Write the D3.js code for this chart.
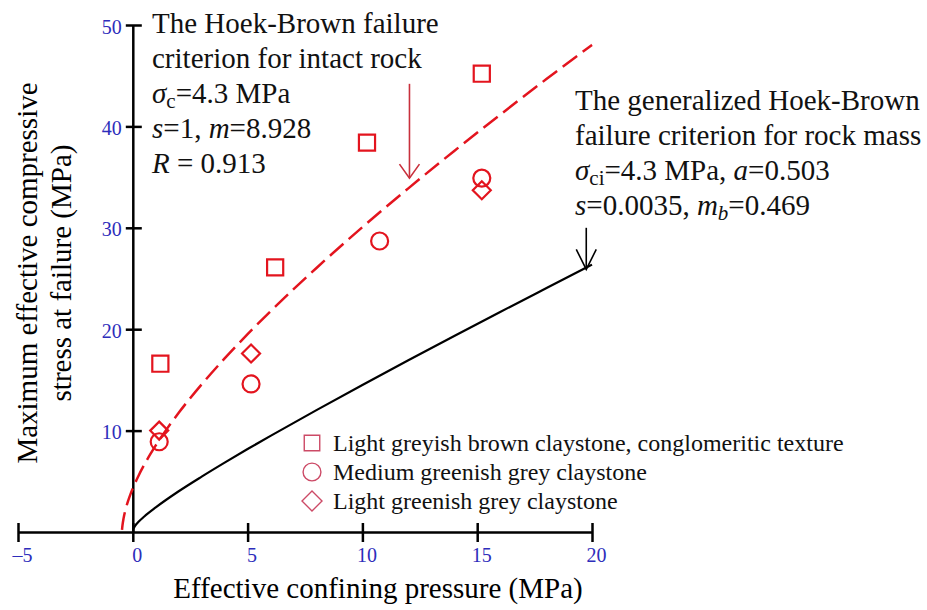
<!DOCTYPE html>
<html>
<head>
<meta charset="utf-8">
<script src="https://cdn.jsdelivr.net/npm/d3@7"></script>
<style>
  body { margin: 0; background: #fff; }
  svg, svg text { font-family: "Liberation Serif", "DejaVu Serif", "Times New Roman", serif; }
</style>
</head>
<body>
<div id="my_dataviz"></div>
<script>
// x / y tick values
const xTicks = [-5, 0, 5, 10, 15, 20];
const yTicks = [10, 20, 30, 40, 50];

// measured points (sigma3, sigma1)
const squareX = [1.2, 6.2, 10.2, 15.2];
const squareY = [16.6, 26.1, 38.4, 45.2];
const circleX = [1.15, 5.15, 10.75, 15.2];
const circleY = [8.9, 14.6, 28.7, 34.9];
const diamondX = [1.15, 5.15, 15.2];
const diamondY = [10.0, 17.6, 33.7];

// Hoek-Brown curve for intact rock
const intactX = [-0.47, -0.45, -0.4, -0.3, -0.2, -0.1, 0, 0.25, 0.5, 1, 1.5, 2, 3, 4, 5, 6, 8, 10, 12, 14, 16, 18, 20];
const intactY = [0.2, 0.65, 1.37, 2.34, 3.09, 3.73, 4.30, 5.55, 6.64, 8.54, 10.22, 11.76, 14.56, 17.12, 19.51, 21.77, 26.04, 30.06, 33.89, 37.58, 41.15, 44.64, 48.04];

// generalized Hoek-Brown curve for rock mass (solid black line)
const massX = [0, 0.1, 0.25, 0.5, 1, 2, 3, 4, 5, 6, 8, 10, 12, 14, 16, 18, 20];
const massY = [0.25, 0.61, 1.00, 1.53, 2.43, 4.02, 5.46, 6.84, 8.18, 9.48, 12.02, 14.50, 16.93, 19.33, 21.70, 24.04, 26.37];

const legendLabels = [
  "Light greyish brown claystone, conglomeritic texture",
  "Medium greenish grey claystone",
  "Light greenish grey claystone"
];

const width = 927, height = 610;
const serif = '"Liberation Serif", "DejaVu Serif", "Times New Roman", serif';
const red = "#e3141e";
const tickBlue = "#2d2dbb";

const svg = d3.select("#my_dataviz")
  .append("svg")
    .attr("width", width)
    .attr("height", height)
    .style("font-family", serif);

const x = d3.scaleLinear().domain([-5, 20]).range([18, 592]);
const y = d3.scaleLinear().domain([0, 50]).range([532, 25]);

// axes drawn through the origin
const xAxis = svg.append("g")
  .attr("transform", "translate(0," + y(0) + ")")
  .call(d3.axisBottom(x).tickValues(xTicks).tickSize(0).tickFormat(d => d < 0 ? "\u2013" + (-d) : d))
  .attr("font-family", serif);
xAxis.select(".domain").attr("stroke", "#000").attr("stroke-width", 2.5);
xAxis.selectAll(".tick line").remove();
xAxis.selectAll(".tick").append("line")
  .attr("y1", -9).attr("y2", 10)
  .attr("stroke", "#000").attr("stroke-width", 2.5);
xAxis.selectAll(".tick text")
  .attr("y", 16).attr("dx", 4)
  .attr("fill", tickBlue)
  .style("font-family", serif)
  .style("font-size", "20px");

const yAxis = svg.append("g")
  .attr("transform", "translate(" + x(0) + ",0)")
  .call(d3.axisLeft(y).tickValues(yTicks).tickSize(0))
  .attr("font-family", serif);
yAxis.select(".domain").attr("stroke", "#000").attr("stroke-width", 2.5);
yAxis.selectAll(".tick line").remove();
yAxis.selectAll(".tick").append("line")
  .attr("x1", -7).attr("x2", 9)
  .attr("stroke", "#000").attr("stroke-width", 2.5);
yAxis.selectAll(".tick text")
  .attr("x", -11).attr("dy", "0.4em")
  .attr("fill", tickBlue)
  .style("font-family", serif)
  .style("font-size", "20px");

// axis titles
svg.append("text")
  .attr("x", 378).attr("y", 598)
  .attr("text-anchor", "middle")
  .style("font-size", "29px")
  .text("Effective confining pressure (MPa)");

const yTitle = svg.append("text")
  .attr("transform", "translate(37,273) rotate(-90)")
  .attr("text-anchor", "middle")
  .style("font-size", "29px");
yTitle.append("tspan").attr("x", 0).attr("y", 0).text("Maximum effective compressive");
yTitle.append("tspan").attr("x", 0).attr("y", 34).text("stress at failure (MPa)");

// curves
const intact = intactX.map((v, i) => [v, intactY[i]]);
const mass = massX.map((v, i) => [v, massY[i]]);
const line = d3.line()
  .x(d => x(d[0]))
  .y(d => y(d[1]))
  .curve(d3.curveMonotoneX);

svg.append("path")
  .datum(mass)
  .attr("d", line)
  .attr("fill", "none")
  .attr("stroke", "#000")
  .attr("stroke-width", 2.2);

svg.append("path")
  .datum(intact)
  .attr("d", line)
  .attr("fill", "none")
  .attr("stroke", red)
  .attr("stroke-width", 2.5)
  .attr("stroke-dasharray", "18,7");

// points
const squares = squareX.map((v, i) => [v, squareY[i]]);
const circles = circleX.map((v, i) => [v, circleY[i]]);
const diamonds = diamondX.map((v, i) => [v, diamondY[i]]);

svg.append("g").selectAll("path")
  .data(squares)
  .enter().append("path")
    .attr("d", d3.symbol().type(d3.symbolSquare).size(260))
    .attr("transform", d => "translate(" + x(d[0]) + "," + y(d[1]) + ")")
    .attr("fill", "none").attr("stroke", red).attr("stroke-width", 2.2);

svg.append("g").selectAll("circle")
  .data(circles)
  .enter().append("circle")
    .attr("cx", d => x(d[0]))
    .attr("cy", d => y(d[1]))
    .attr("r", 8.5)
    .attr("fill", "none").attr("stroke", red).attr("stroke-width", 2.2);

svg.append("g").selectAll("path")
  .data(diamonds)
  .enter().append("path")
    .attr("d", "M0,-9L9,0L0,9L-9,0Z")
    .attr("transform", d => "translate(" + x(d[0]) + "," + y(d[1]) + ")")
    .attr("fill", "none").attr("stroke", red).attr("stroke-width", 2.2);

// arrows pointing at the two curves
function arrow(xv, yTop, yTip, color, head) {
  const g = svg.append("g").attr("stroke", color).attr("stroke-width", 1.6).attr("fill", "none");
  g.append("line")
    .attr("x1", x(xv)).attr("x2", x(xv))
    .attr("y1", y(yTop)).attr("y2", y(yTip));
  g.append("path")
    .attr("d", "M" + (x(xv) - 10) + "," + (y(yTip) - head) + "L" + x(xv) + "," + y(yTip) + "L" + (x(xv) + 10) + "," + (y(yTip) - head));
}
arrow(12.05, 44.2, 34.9, "#c8303c", 14);
arrow(19.75, 30.0, 25.9, "#000", 20);

// annotation text
function note(xp, yp, lines) {
  lines.forEach((parts, i) => {
    const t = svg.append("text")
      .attr("x", xp).attr("y", yp + i * 35)
      .style("font-size", "29px")
      .attr("fill", "#111");
    parts.forEach(p => {
      const s = t.append("tspan").text(p.t);
      if (p.i) s.style("font-style", "italic");
      if (p.sub) s.attr("baseline-shift", "-25%").style("font-size", "21px");
    });
  });
}

note(152, 33, [
  [{t: "The Hoek-Brown failure"}],
  [{t: "criterion for intact rock"}],
  [{t: "\u03c3", i: true}, {t: "c", sub: true}, {t: "=4.3 MPa"}],
  [{t: "s", i: true}, {t: "=1, "}, {t: "m", i: true}, {t: "=8.928"}],
  [{t: "R", i: true}, {t: " = 0.913"}]
]);

note(575, 110, [
  [{t: "The generalized Hoek-Brown"}],
  [{t: "failure criterion for rock mass"}],
  [{t: "\u03c3", i: true}, {t: "ci", sub: true}, {t: "=4.3 MPa, "}, {t: "a", i: true}, {t: "=0.503"}],
  [{t: "s", i: true}, {t: "=0.0035, "}, {t: "m", i: true}, {t: "b", i: true, sub: true}, {t: "=0.469"}]
]);

// legend
const legendColor = "#cc4a66";
const legend = svg.append("g");
legendLabels.forEach((label, i) => {
  const cy = 443 + i * 29;
  let sym;
  if (i === 0) sym = d3.symbol().type(d3.symbolSquare).size(240)();
  else if (i === 1) sym = d3.symbol().type(d3.symbolCircle).size(250)();
  else sym = "M0,-10L10,0L0,10L-10,0Z";
  legend.append("path")
    .attr("d", sym)
    .attr("transform", "translate(312," + cy + ")")
    .attr("fill", "none").attr("stroke", legendColor).attr("stroke-width", 1.4);
  legend.append("text")
    .attr("x", 333).attr("y", cy + 8)
    .style("font-size", "24px")
    .attr("fill", "#111")
    .text(label);
});
</script>
</body>
</html>
